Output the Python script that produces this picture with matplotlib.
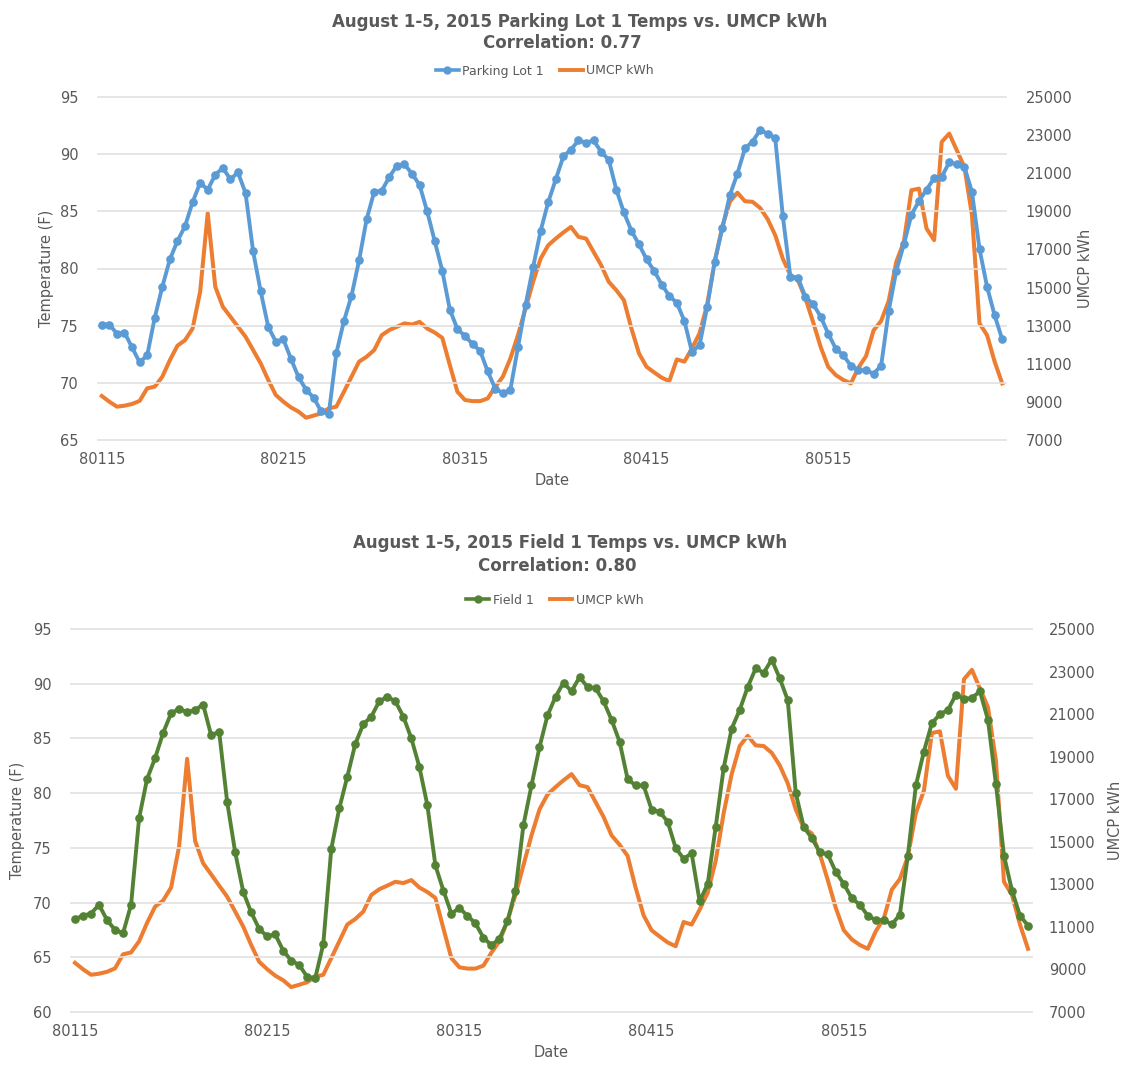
import matplotlib
matplotlib.use("Agg")
import matplotlib.pyplot as plt
from matplotlib.lines import Line2D

# ---------------- data ----------------
date_labels = ["80115", "80215", "80315", "80415", "80515"]

parking_lot_1 = [
    75.1, 75.1, 74.3, 74.4, 73.1, 71.8, 72.4, 75.7, 78.4, 80.8,
    82.4, 83.7, 85.8, 87.5, 86.9, 88.2, 88.8, 87.8, 88.4, 86.6,
    81.5, 78.0, 74.9, 73.6, 73.8, 72.1, 70.5, 69.4, 68.7, 67.5,
    67.3, 72.6, 75.4, 77.6, 80.7, 84.3, 86.7, 86.8, 88.0, 89.0,
    89.1, 88.3, 87.3, 85.0, 82.4, 79.8, 76.4, 74.7, 74.1, 73.4,
    72.8, 71.0, 69.5, 69.1, 69.4, 73.1, 76.8, 80.1, 83.3, 85.8,
    87.8, 89.8, 90.4, 91.2, 91.0, 91.2, 90.2, 89.5, 86.9, 84.9,
    83.3, 82.1, 80.8, 79.8, 78.6, 77.6, 77.0, 75.4, 72.7, 73.3,
    76.6, 80.6, 83.5, 86.4, 88.3, 90.5, 91.1, 92.1, 91.8, 91.4,
    84.6, 79.3, 79.2, 77.5, 76.9, 75.8, 74.3, 73.0, 72.4, 71.5,
    71.1, 71.1, 70.8, 71.5, 76.3, 79.8, 82.1, 84.7, 85.9, 86.9,
    87.9, 88.0, 89.3, 89.1, 88.9, 86.7, 81.7, 78.4, 75.9, 73.8,
]

field_1 = [
    68.5, 68.8, 69.0, 69.8, 68.4, 67.5, 67.2, 69.8, 77.7, 81.3,
    83.2, 85.5, 87.3, 87.7, 87.4, 87.6, 88.1, 85.3, 85.6, 79.2,
    74.6, 71.0, 69.1, 67.6, 66.9, 67.1, 65.6, 64.7, 64.3, 63.2,
    63.1, 66.2, 74.9, 78.6, 81.5, 84.5, 86.3, 87.0, 88.4, 88.8,
    88.4, 87.0, 85.0, 82.4, 78.9, 73.4, 71.1, 69.0, 69.5, 68.8,
    68.1, 66.8, 66.1, 66.7, 68.3, 71.1, 77.1, 80.7, 84.2, 87.1,
    88.8, 90.1, 89.3, 90.6, 89.7, 89.6, 88.4, 86.7, 84.7, 81.3,
    80.7, 80.7, 78.5, 78.3, 77.4, 75.0, 74.0, 74.5, 70.1, 71.7,
    76.9, 82.3, 85.9, 87.6, 89.7, 91.4, 91.0, 92.2, 90.5, 88.5,
    80.0, 76.9, 75.9, 74.6, 74.4, 72.8, 71.7, 70.4, 69.8, 68.8,
    68.4, 68.4, 68.0, 68.9, 74.3, 80.7, 83.8, 86.4, 87.2, 87.6,
    89.0, 88.6, 88.7, 89.3, 86.7, 80.8, 74.3, 71.1, 68.8, 67.9,
]

umcp_kwh = [
    9310, 9010, 8750, 8800, 8890, 9050, 9710, 9800, 10320, 11190,
    11950, 12240, 12850, 14780, 18900, 15040, 13990, 13470, 12940, 12420,
    11720, 11020, 10150, 9360, 9010, 8710, 8490, 8170, 8280, 8400,
    8660, 8750, 9530, 10320, 11110, 11370, 11720, 12500, 12770, 12940,
    13120, 13060, 13200, 12850, 12640, 12360, 10930, 9530, 9100, 9040,
    9040, 9180, 9790, 10320, 11280, 12500, 13900, 15300, 16520, 17220,
    17570, 17890, 18180, 17660, 17570, 16870, 16170, 15300, 14860, 14340,
    12850, 11540, 10840, 10550, 10270, 10090, 11230, 11110, 11810, 12600,
    14100, 16350, 18180, 19500, 19980, 19530, 19500, 19180, 18590, 17750,
    16520, 15650, 15390, 14430, 13200, 11890, 10840, 10410, 10150, 9970,
    10800, 11400, 12750, 13250, 14300, 16350, 17400, 20110, 20190, 18100,
    17490, 22640, 23080, 22200, 21330, 18800, 13120, 12500, 11110, 9970,
]

temp_ticks = [60, 65, 70, 75, 80, 85, 90, 95]
kwh_ticks = [7000, 9000, 11000, 13000, 15000, 17000, 19000, 21000, 23000, 25000]

# ---------------- style ----------------
TXT = "#595959"
GRID = "#E0E0E0"
BLUE = "#5B9BD5"
ORANGE = "#ED7D31"
GREEN = "#548235"
plt.rcParams["font.family"] = ["DejaVu Sans"]

W, H = 1130, 1068
fig = plt.figure(figsize=(W / 100, H / 100), dpi=100)


def px_axes(left, top, right, bottom):
    return fig.add_axes([left / W, 1 - bottom / H, (right - left) / W, (bottom - top) / H])


def draw_panel(ax, temps, tcolor, tlabel, ylo, yhi, title1, title2, title_pos, legend_xy,
               ypad_l, ypad_r, ylab_x, ylab2_x):
    n = len(umcp_kwh)
    x = list(range(n))
    ax.plot(x, temps, color=tcolor, lw=2.8, marker="o", ms=5.2,
            markeredgecolor=tcolor, markerfacecolor=tcolor, zorder=3)
    ax.set_xlim(-0.5, n - 0.5)
    ax.set_ylim(ylo, yhi)
    ax.set_yticks([t for t in temp_ticks if ylo <= t <= yhi])
    ax.grid(axis="y", color=GRID, lw=1.2)
    for gl in ax.get_ygridlines():
        gl.set_clip_on(False)
    ax.set_axisbelow(True)
    for s in ax.spines.values():
        s.set_visible(False)
    ax.set_xticks(list(range(0, n, 24)))
    ax.set_xticklabels(date_labels)
    ax.tick_params(axis="both", length=0, labelcolor=TXT, labelsize=10.5)
    ax.tick_params(axis="y", pad=ypad_l)
    ax.tick_params(axis="x", pad=9)
    ax.set_xlabel("Date", color=TXT, fontsize=10.5, labelpad=4)
    ax.set_ylabel("Temperature (F)", color=TXT, fontsize=10.5)
    ax.yaxis.set_label_coords(ylab_x, 0.5)

    ax2 = ax.twinx()
    ax2.plot(x, umcp_kwh, color=ORANGE, lw=2.9, zorder=2)
    ax2.set_ylim(7000, 25000)
    ax2.set_yticks(kwh_ticks)
    for s in ax2.spines.values():
        s.set_visible(False)
    ax2.tick_params(axis="y", length=0, labelcolor=TXT, labelsize=10.5, pad=ypad_r)
    ax2.set_ylabel("UMCP kWh", color=TXT, fontsize=10.5, rotation=90)
    ax2.yaxis.set_label_coords(ylab2_x, 0.5)
    ax.set_zorder(ax2.get_zorder() + 1)
    ax.patch.set_visible(False)

    fig.text(title_pos[0][0] / W, 1 - title_pos[0][1] / H, title1, ha="center", va="center",
             fontsize=12, fontweight="bold", color=TXT)
    fig.text(title_pos[1][0] / W, 1 - title_pos[1][1] / H, title2, ha="center", va="center",
             fontsize=12, fontweight="bold", color=TXT)

    handles = [
        Line2D([], [], color=tcolor, lw=2.6, marker="o", ms=5),
        Line2D([], [], color=ORANGE, lw=2.8),
    ]
    fig.legend(handles, [tlabel, "UMCP kWh"], loc="center",
               bbox_to_anchor=(legend_xy[0] / W, 1 - legend_xy[1] / H),
               ncol=2, frameon=False, fontsize=9, handlelength=1.8,
               handletextpad=0.3, columnspacing=1.3, labelcolor=TXT)
    return ax, ax2


ax_top = px_axes(98, 97, 1006, 440)
draw_panel(ax_top, parking_lot_1, BLUE, "Parking Lot 1", 65, 95,
           "August 1-5, 2015 Parking Lot 1 Temps vs. UMCP kWh", "Correlation: 0.77",
           [(580, 22), (562, 43)], (545, 71), 14, 14, -0.048, 1.079)

ax_bot = px_axes(71, 629, 1032, 1012)
draw_panel(ax_bot, field_1, GREEN, "Field 1", 60, 95,
           "August 1-5, 2015 Field 1 Temps vs. UMCP kWh", "Correlation: 0.80",
           [(570, 543), (557, 566)], (555, 600), 14, 12, -0.048, 1.079)

fig.savefig("out.png", dpi=100)
